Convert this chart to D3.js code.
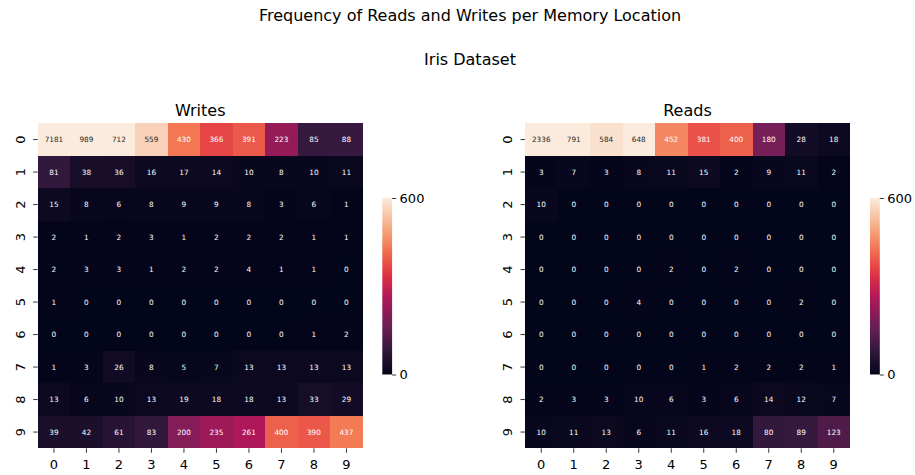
<!DOCTYPE html>
<meta charset="utf-8">
<script src="https://d3js.org/d3.v7.min.js"></script>
<style>
  body { margin: 0; background: #fff; }
  text { font-family: "DejaVu Sans", sans-serif; }
</style>
<div id="chart"></div>
<script>
// data
var rowLabels = ["0", "1", "2", "3", "4", "5", "6", "7", "8", "9"];
var colLabels = ["0", "1", "2", "3", "4", "5", "6", "7", "8", "9"];
var writes = [
  [7181, 989, 712, 559, 430, 366, 391, 223, 85, 88],
  [81, 38, 36, 16, 17, 14, 10, 8, 10, 11],
  [15, 8, 6, 8, 9, 9, 8, 3, 6, 1],
  [2, 1, 2, 3, 1, 2, 2, 2, 1, 1],
  [2, 3, 3, 1, 2, 2, 4, 1, 1, 0],
  [1, 0, 0, 0, 0, 0, 0, 0, 0, 0],
  [0, 0, 0, 0, 0, 0, 0, 0, 1, 2],
  [1, 3, 26, 8, 5, 7, 13, 13, 13, 13],
  [13, 6, 10, 13, 19, 18, 18, 13, 33, 29],
  [39, 42, 61, 83, 200, 235, 261, 400, 390, 437]
];
var reads = [
  [2336, 791, 584, 648, 452, 381, 400, 180, 28, 18],
  [3, 7, 3, 8, 11, 15, 2, 9, 11, 2],
  [10, 0, 0, 0, 0, 0, 0, 0, 0, 0],
  [0, 0, 0, 0, 0, 0, 0, 0, 0, 0],
  [0, 0, 0, 0, 2, 0, 2, 0, 0, 0],
  [0, 0, 0, 4, 0, 0, 0, 0, 2, 0],
  [0, 0, 0, 0, 0, 0, 0, 0, 0, 0],
  [0, 0, 0, 0, 0, 1, 2, 2, 2, 1],
  [2, 3, 3, 10, 6, 3, 6, 14, 12, 7],
  [10, 11, 13, 6, 11, 16, 18, 80, 89, 123]
];
var cbarTicks = [0, 600];

var W = 915, H = 475;
var vmax = 600;

// rocket-like colour ramp
var rocketStops = ["#03051a", "#35193e", "#701f57", "#ad1759", "#e13342", "#f37651", "#f6b48f", "#faebdd"];
var color = d3.scaleLinear()
  .domain(d3.range(rocketStops.length).map(function(i) { return i / (rocketStops.length - 1) * vmax; }))
  .range(rocketStops)
  .interpolate(d3.interpolateRgb)
  .clamp(true);

function luminance(c) {
  var rgb = d3.rgb(c);
  var f = function(v) { v = v / 255; return v <= 0.03928 ? v / 12.92 : Math.pow((v + 0.055) / 1.055, 2.4); };
  return 0.2126 * f(rgb.r) + 0.7152 * f(rgb.g) + 0.0722 * f(rgb.b);
}

var svg = d3.select("#chart").append("svg")
  .attr("width", W).attr("height", H);

svg.append("text")
  .attr("x", 470).attr("y", 21)
  .attr("text-anchor", "middle")
  .style("font-size", "16px")
  .text("Frequency of Reads and Writes per Memory Location");

svg.append("text")
  .attr("x", 470).attr("y", 65)
  .attr("text-anchor", "middle")
  .style("font-size", "16px")
  .text("Iris Dataset");

// gradient for colour bars
var grad = svg.append("defs").append("linearGradient")
  .attr("id", "cbar").attr("x1", 0).attr("y1", 1).attr("x2", 0).attr("y2", 0);
d3.range(0, 1.0001, 0.05).forEach(function(t) {
  grad.append("stop").attr("offset", t).attr("stop-color", color(t * vmax));
});

function heatmap(data, title, left, cbLeft) {
  var top = 123.3, size = 325;
  var g = svg.append("g");

  var x = d3.scaleBand().domain(colLabels).range([left, left + size]);
  var y = d3.scaleBand().domain(rowLabels).range([top, top + size]);

  var cells = [];
  data.forEach(function(row, i) {
    row.forEach(function(v, j) { cells.push({r: rowLabels[i], c: colLabels[j], v: v}); });
  });

  g.selectAll("rect.cell").data(cells).enter().append("rect")
    .attr("class", "cell")
    .attr("x", function(d) { return x(d.c); })
    .attr("y", function(d) { return y(d.r); })
    .attr("width", x.bandwidth())
    .attr("height", y.bandwidth())
    .attr("shape-rendering", "crispEdges")
    .attr("fill", function(d) { return color(d.v); });

  g.selectAll("text.ann").data(cells).enter().append("text")
    .attr("class", "ann")
    .attr("x", function(d) { return x(d.c) + x.bandwidth() / 2; })
    .attr("y", function(d) { return y(d.r) + y.bandwidth() / 2; })
    .attr("text-anchor", "middle")
    .attr("dy", "0.35em")
    .style("font-size", "7.3px")
    .attr("fill", function(d) { return luminance(color(d.v)) > 0.408 ? "#262626" : "#ffffff"; })
    .text(function(d) { return d.v; });

  // axes
  var xAxis = g.append("g")
    .attr("transform", "translate(0," + (top + size) + ")")
    .call(d3.axisBottom(x).tickSize(4.5).tickPadding(6.5));
  xAxis.select(".domain").remove();
  xAxis.selectAll("text").style("font-size", "13px").attr("fill", "#000").style("font-family", "DejaVu Sans");
  xAxis.selectAll("line").attr("stroke", "#000").attr("stroke-width", 0.8);

  var yAxis = g.append("g")
    .attr("transform", "translate(" + left + ",0)")
    .call(d3.axisLeft(y).tickSize(4.5).tickPadding(3.5));
  yAxis.select(".domain").remove();
  yAxis.selectAll("line").attr("stroke", "#000").attr("stroke-width", 0.8);
  yAxis.selectAll("text")
    .style("font-size", "13px").attr("fill", "#000").style("font-family", "DejaVu Sans")
    .attr("x", 0).attr("dy", 0)
    .attr("text-anchor", "middle")
    .attr("transform", "translate(-13,0) rotate(-90)");

  g.append("text")
    .attr("x", left + size / 2).attr("y", top - 7)
    .attr("text-anchor", "middle")
    .style("font-size", "16px")
    .text(title);

  // colour bar
  var cbTop = 198, cbH = 176.5, cbW = 9.8;
  g.append("rect")
    .attr("x", cbLeft).attr("y", cbTop)
    .attr("width", cbW).attr("height", cbH)
    .attr("fill", "url(#cbar)");
  var cy = d3.scaleLinear().domain([0, vmax]).range([cbTop + cbH, cbTop]);
  var cAxis = g.append("g")
    .attr("transform", "translate(" + (cbLeft + cbW) + ",0)")
    .call(d3.axisRight(cy).tickValues(cbarTicks).tickSize(4).tickPadding(3.5));
  cAxis.select(".domain").remove();
  cAxis.selectAll("line").attr("stroke", "#000").attr("stroke-width", 0.8);
  cAxis.selectAll("text").style("font-size", "13px").attr("fill", "#000").style("font-family", "DejaVu Sans");
}

heatmap(writes, "Writes", 37.7, 382.3);
heatmap(reads, "Reads", 525, 870);
</script>
